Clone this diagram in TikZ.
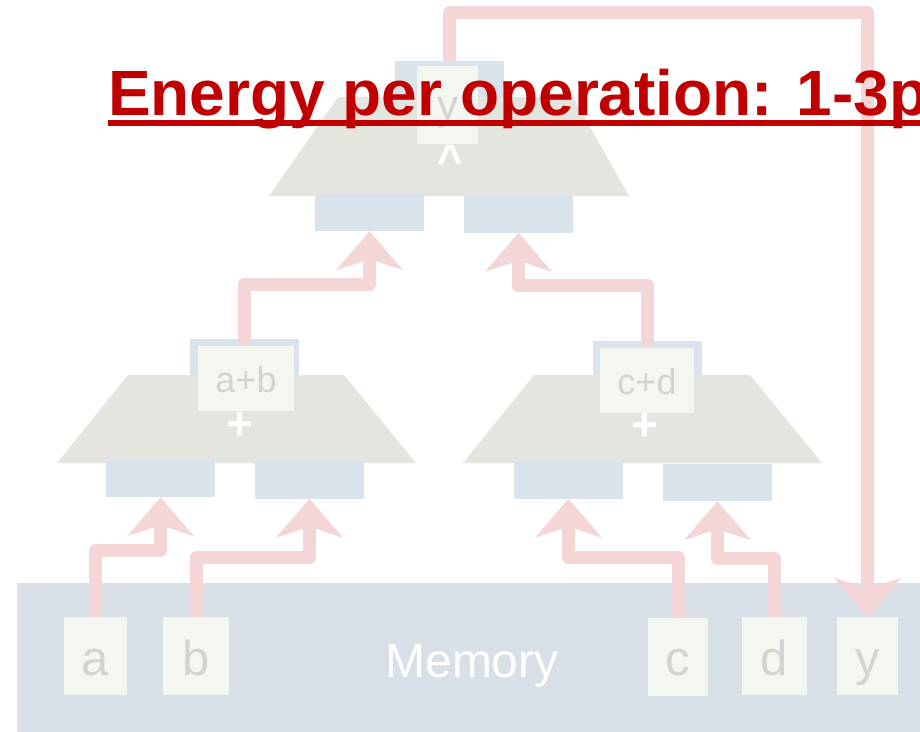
\documentclass[tikz,border=0pt]{standalone}
\usepackage{fontspec}
\setmainfont{Liberation Sans}
\usetikzlibrary{arrows.meta, calc}
\definecolor{wirepink}{RGB}{245,214,214}
\definecolor{portblue}{RGB}{217,227,236}
\definecolor{membar}{RGB}{217,223,230}
\definecolor{muxgray}{RGB}{228,229,223}
\definecolor{cellbg}{RGB}{244,246,240}
\definecolor{cellfg}{RGB}{211,211,211}
\definecolor{titlered}{RGB}{192,0,0}
\begin{document}
\begin{tikzpicture}[x=1pt, y=-1pt,
      port/.style={rectangle, fill=portblue, inner sep=0pt, minimum width=109pt, minimum height=37pt},
      cell/.style={rectangle, fill=cellbg, inner sep=0pt, minimum height=78pt, text=cellfg,
        font=\fontsize{49}{49}\selectfont, text height=38pt, text depth=0pt},
      sum/.style={rectangle, fill=cellbg, inner sep=0pt, minimum height=65pt, text=cellfg,
        font=\fontsize{36}{36}\selectfont, text height=27pt, text depth=0pt},
      op/.style={anchor=base, text=white, inner sep=0pt, font=\bfseries\fontsize{46}{46}\selectfont},
      wire/.style={draw=wirepink, line width=13pt, line join=round,
        -{Stealth[length=39pt, width=67pt, inset=11pt, line width=0pt]}}]
      \useasboundingbox (0,0) rectangle (920,731);
      \clip (0,0) rectangle (920,731);
      \fill[white] (0,0) rectangle (920,731);
      % memory
      \fill[membar] (17,583) rectangle (930,740);
      \node[anchor=base, text=white, inner sep=0pt, font=\fontsize{48}{48}\selectfont] (memory) at (472,677) {Memory};
      \node[cell, minimum width=63pt] (memA) at (95.5,656) {a};
      \node[cell, minimum width=66pt] (memB) at (196,656) {b};
      \node[cell, minimum width=60pt] (memC) at (678,656.5) {c};
      \node[cell, minimum width=65pt] (memD) at (774.5,656) {d};
      \node[cell, minimum width=61pt] (memY) at (867.5,656) {y};
      % top unit
      \node[port, minimum height=50pt] (yOut) at (449.5,86) {};
      \fill[muxgray] (338,97) -- (573,97) -- (629,196) -- (269,196) -- cycle;
      \node[sum, minimum width=61pt, minimum height=78pt, font=\fontsize{42}{42}\selectfont, text height=28pt] (yCell) at (447.5,105) {y};
      \node[op, font=\bfseries\fontsize{44}{44}\selectfont] (yOp) at (450,175) {\textasciicircum};
      \node[port] (yIn1) at (369.5,212.5) {};
      \node[port] (yIn2) at (518.5,214) {};
      % left unit
      \node[port, minimum height=50pt] (abOut) at (244.5,364) {};
      \fill[muxgray] (128,375) -- (344,375) -- (416,463) -- (57,463) -- cycle;
      \node[sum, minimum width=96pt] (abCell) at (246,378.5) {a+b};
      \node[op] (abOp) at (239.5,439) {+};
      \node[port] (abIn1) at (160.5,478.5) {};
      \node[port] (abIn2) at (309.5,480) {};
      % right unit
      \node[port, minimum height=50pt] (cdOut) at (647.5,366) {};
      \fill[muxgray] (534,375) -- (750,375) -- (822,463) -- (463,463) -- cycle;
      \node[sum, minimum width=94pt] (cdCell) at (647,380.5) {c+d};
      \node[op] (cdOp) at (645,440) {+};
      \node[port] (cdIn1) at (568.5,480) {};
      \node[port] (cdIn2) at (717.5,482.5) {};
      % data flow
      \draw[wire] (memA.north) -- ++(0,-66) -| (abIn1.south);
      \draw[wire] (memB.north) -- ++(0,-59) -| (abIn2.south);
      \draw[wire] (memC.north) -- ++(0,-60) -| (cdIn1.south);
      \draw[wire] (memD.north) -- ++(0,-58) -| (cdIn2.south);
      \draw[wire, line cap=round] (abOut.north) -- ++(0,-54) -| (yIn1.south);
      \draw[wire, line cap=round] (cdOut.north) -- ++(0,-55) -| (yIn2.south);
      \draw[wire] (yOut.north) -- ++(0,-48) -| (memY.north);
      % title
      \node[anchor=base west, inner sep=0pt, text=titlered, font=\bfseries\fontsize{64}{64}\selectfont] (title) at (108,115) {Energy per operation: 1-3p};
      \fill[titlered] (108,120) rectangle (930,126);
\end{tikzpicture}
\end{document}
